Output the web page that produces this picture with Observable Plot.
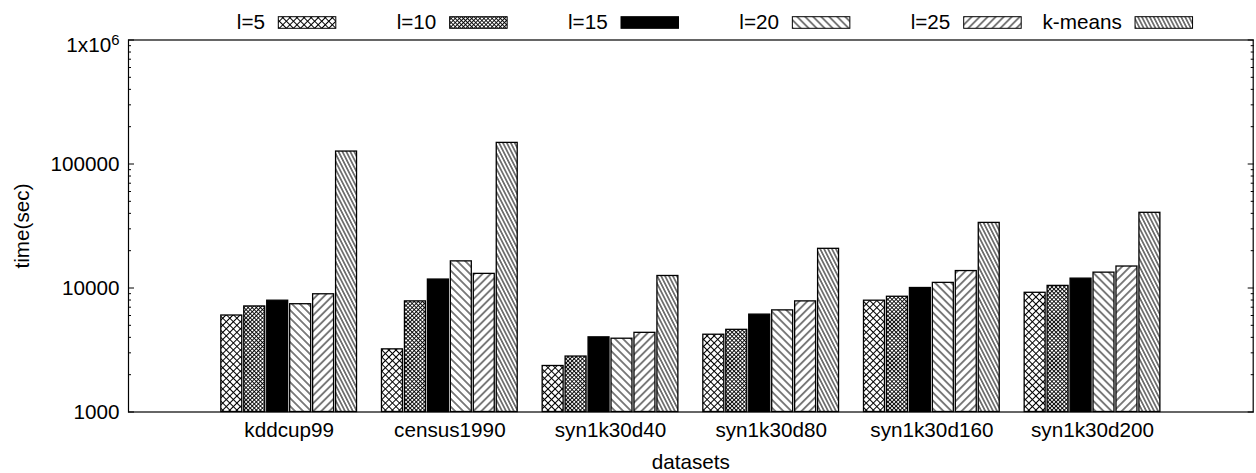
<!DOCTYPE html>
<html><head><meta charset="utf-8">
<script src="https://cdn.jsdelivr.net/npm/d3@7"></script>
<script src="https://cdn.jsdelivr.net/npm/@observablehq/plot@0.6"></script>
<style>
body{margin:0;background:#fff;}
#chart{width:1256px;height:473px;position:relative;font-family:"Liberation Sans",Arial,Helvetica,sans-serif;color:#000;}
#chart svg{display:block;}
#legend{position:absolute;left:0;top:0;}
</style></head><body><div id="chart"></div>
<script>
// ---- data ----
const datasets = ["kddcup99","census1990","syn1k30d40","syn1k30d80","syn1k30d160","syn1k30d200"];
const series = ["l=5","l=10","l=15","l=20","l=25","k-means"];
const l5     = [6000, 3200, 2350, 4200, 7900, 9150];
const l10    = [7100, 7800, 2800, 4600, 8500, 10400];
const l15    = [7900, 11700, 4000, 6100, 10000, 11900];
const l20    = [7400, 16400, 3900, 6600, 11000, 13300];
const l25    = [8900, 13000, 4350, 7800, 13700, 14900];
const kmeans = [126000, 148000, 12500, 20700, 33500, 40400];
const yTickValues = [1000, 10000, 100000, 1000000];
const yTickLabels = ["1000", "10000", "100000", "1x10^6"];

// ---- styles ----
const fills = ["url(#p0)", "url(#p1)", "#000", "url(#p3)", "url(#p4)", "url(#p5)"];
const FONT = '"Liberation Sans", Arial, Helvetica, sans-serif';
const FS = 20.7;

const values = [l5, l10, l15, l20, l25, kmeans];
const rows = [];
datasets.forEach((ds, i) => series.forEach((s, j) => rows.push({dataset: ds, gi: i, series: s, sj: j, value: values[j][i]})));

const yMinor = [];
for (const dec of [1000, 10000, 100000]) for (let k = 2; k <= 9; k++) yMinor.push(k * dec);

const chart = d3.select("#chart");

// ---- plot ----
const noText = () => "";
const svg = Plot.plot({
  width: 1256, height: 473,
  marginLeft: 128, marginRight: 3.3, marginTop: 39.5, marginBottom: 61.5,
  style: {fontFamily: FONT, fontSize: FS + "px", color: "#000", background: "#fff"},
  x: {type: "linear", domain: [0, datasets.length + 1]},
  y: {type: "log", domain: [1000, 1000000]},
  color: {type: "ordinal", domain: series, range: fills},
  marks: [
    Plot.rect(rows, {
      x1: d => d.gi + 1 + (d.sj - 3) / 7,
      x2: d => d.gi + 1 + (d.sj - 2) / 7,
      y1: d => 1000, y2: "value",
      fill: "series", stroke: "#000", strokeWidth: 1.3,
      insetLeft: 1, insetRight: 1
    }),
    Plot.axisY({anchor: "left", ticks: yTickValues, tickSize: -6, tickPadding: 15,
      tickFormat: d => yTickLabels[yTickValues.indexOf(d)],
      label: "time(sec)", labelAnchor: "center", labelOffset: 114, labelArrow: "none"}),
    Plot.axisY({anchor: "left", ticks: yMinor, tickSize: -3, tickFormat: noText, label: null}),
    Plot.axisY({anchor: "right", ticks: yTickValues, tickSize: -6, tickFormat: noText, label: null}),
    Plot.axisY({anchor: "right", ticks: yMinor, tickSize: -3, tickFormat: noText, label: null}),
    Plot.axisX({anchor: "bottom", ticks: datasets.map((d, i) => i + 1), tickSize: 0, tickPadding: 10,
      tickFormat: d => datasets[d - 1],
      label: "datasets", labelAnchor: "center", labelOffset: 57, labelArrow: "none"}),
    Plot.frame({stroke: "#000", strokeWidth: 1.2})
  ]
});
chart.node().appendChild(svg);

// superscript for 1x10^6
d3.select(svg).selectAll("text").filter(function() { return this.textContent === "1x10^6"; })
  .each(function() {
    const t = d3.select(this);
    t.text("");
    t.append("tspan").attr("dy", "0.25em").text("1x10");
    t.append("tspan").attr("dy", "-0.45em").attr("font-size", "0.72em").text("6");
  });

// ---- legend (overlaid on the plot's top margin) ----
const leg = chart.append("svg").attr("id", "legend").attr("width", 1256).attr("height", 38)
  .style("font-family", FONT).style("font-size", FS + "px");
const defs = leg.append("defs");
function linePattern(id, size, rot, paths, sw) {
  const p = defs.append("pattern").attr("id", id).attr("patternUnits", "userSpaceOnUse")
    .attr("width", size).attr("height", size).attr("patternTransform", `rotate(${rot})`);
  p.append("rect").attr("width", size).attr("height", size).attr("fill", "#fff");
  p.append("path").attr("d", paths).attr("stroke", "#000").attr("stroke-width", sw).attr("fill", "none");
}
linePattern("p0", 5, 45, "M0,2.5H5M2.5,0V5", 1);
linePattern("p1", 2.9, 45, "M0,1.45H2.9M1.45,0V2.9", 0.9);
linePattern("p3", 5.66, -45, "M2.83,0V5.66", 1);
linePattern("p4", 5.66, 45, "M2.83,0V5.66", 1);
linePattern("p5", 3.5, -27, "M1.75,0V3.5", 1);

series.forEach((s, i) => {
  const swLeft = 278.3 + i * 171.35;
  leg.append("text").attr("x", swLeft - 13.3).attr("y", 29).attr("text-anchor", "end").text(s);
  leg.append("rect").attr("x", swLeft).attr("y", 16.7).attr("width", 57.5).attr("height", 11.6)
    .attr("fill", fills[i]).attr("stroke", "#000").attr("stroke-width", 1);
});
</script>
</body></html>
